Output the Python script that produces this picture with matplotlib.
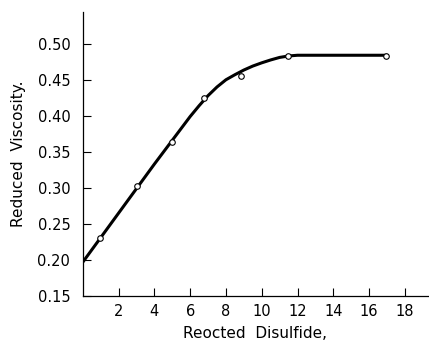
import matplotlib.pyplot as plt

# measured points (open circles)
x_pts = [0.97, 3.02, 4.97, 6.8, 8.83, 11.45, 16.94]
y_pts = [0.231, 0.303, 0.3635, 0.4246, 0.4546, 0.4833, 0.4833]

# hand-drawn smooth curve
x_curve = [0, 1, 2, 3, 4, 5, 6, 6.5, 7, 7.5, 8, 8.5, 9, 9.5, 10, 10.5, 11, 11.5, 12, 14, 17]
y_curve = [0.197, 0.231, 0.265, 0.299, 0.333, 0.366, 0.399, 0.414, 0.428, 0.440, 0.450, 0.457,
           0.4635, 0.469, 0.4735, 0.4775, 0.481, 0.483, 0.484, 0.484, 0.484]

x_ticks = [2, 4, 6, 8, 10, 12, 14, 16, 18]
y_ticks = [0.15, 0.20, 0.25, 0.30, 0.35, 0.40, 0.45, 0.50]

fig = plt.figure(figsize=(4.29, 3.44), dpi=100)
ax = fig.add_axes([0.193, 0.1395, 0.805, 0.8256])

ax.plot(x_curve, y_curve, color='black', lw=2.2, solid_capstyle='round', zorder=2)
ax.plot(x_pts, y_pts, 'o', ms=4, mfc='white', mec='black', mew=0.8, zorder=3)

ax.set_xlim(0, 19.3)
ax.set_ylim(0.15, 0.544)
ax.set_xticks(x_ticks)
ax.set_yticks(y_ticks)
ax.set_yticklabels(['%.2f' % v for v in y_ticks])
ax.tick_params(direction='in', length=6, width=0.8, labelsize=10.5)
ax.tick_params(axis='y', pad=9)
ax.tick_params(axis='x', pad=6)

for side in ['top', 'right']:
    ax.spines[side].set_visible(False)
for side in ['left', 'bottom']:
    ax.spines[side].set_linewidth(0.9)

ax.set_xlabel("Reocted  Disulfide,", fontsize=11, labelpad=5)
ax.set_ylabel("Reduced  Viscosity.", fontsize=11, labelpad=8)

fig.savefig('out.png', dpi=100)
